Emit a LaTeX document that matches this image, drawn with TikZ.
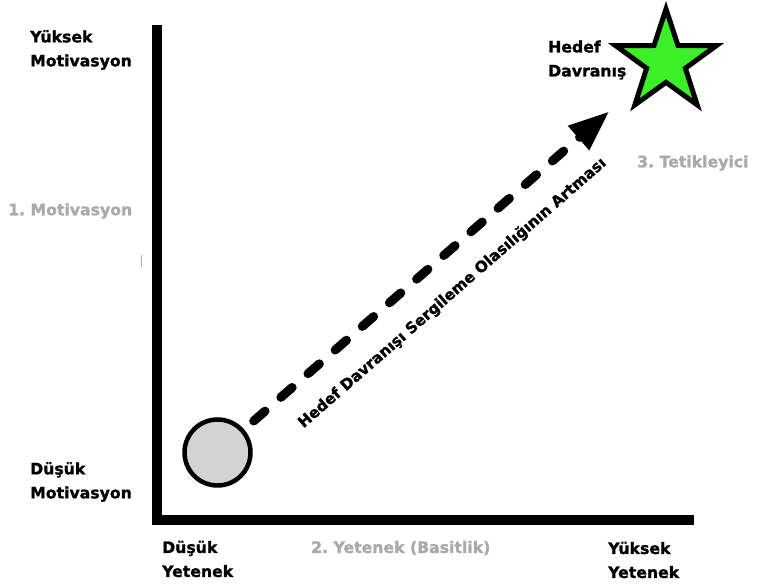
\documentclass[tikz,border=0pt]{standalone}
\usepackage{fontspec}
\setmainfont{DejaVu Sans}[BoldFeatures={FakeBold=1.3}]
\frenchspacing
\usetikzlibrary{shapes.geometric,arrows.meta}
\definecolor{stargreen}{RGB}{60,240,40}
\definecolor{labelgray}{RGB}{170,170,170}
\definecolor{circlegray}{RGB}{211,211,211}
\tikzset{
  lbl/.style={font=\bfseries\fontsize{15.7}{24}\selectfont, inner sep=0pt, align=left, anchor=west},
  glbl/.style={lbl, text=labelgray},
  axisline/.style={line width=10pt},
  startdot/.style={circle, draw, line width=4.5pt, fill=circlegray, minimum size=66pt, inner sep=0pt},
  goalstar/.style={star, star points=5, star point ratio=2.6, draw, line width=5pt, fill=stargreen, minimum size=106pt, inner sep=0pt},
  trend/.style={line width=9pt, line cap=round, dash pattern=on 15pt off 21pt, -{Triangle[length=41pt,width=30pt]}},
  trendlbl/.style={font=\bfseries\fontsize{15.2}{18}\selectfont, inner sep=0pt}
}
\begin{document}
\begin{tikzpicture}[x=1pt,y=1pt]
\useasboundingbox (0,0) rectangle (762,585);
\fill[white] (0,0) rectangle (762,585);
% axes
\draw[axisline] (157,560) -- (157,65) -- (694,65);
\draw[labelgray, line width=1pt] (141,330) -- (141,318);
% nodes
\node[startdot] (circ) at (217.5,132.5) {};
\node[goalstar] (goal) at (666,523) {};
\draw[trend, shorten <=48pt, shorten >=75pt] (circ.center) -- (goal.center)
  node[trendlbl, sloped, pos=0.474, below=22pt] (tl) {Hedef Davranışı Sergileme Olasılığının Artması};
% labels
\node[lbl] (ym) at (30,535) {Yüksek\\Motivasyon};
\node[glbl] (mot) at (8,374) {1. Motivasyon};
\node[lbl] (dm) at (30,103) {Düşük\\Motivasyon};
\node[lbl] (dy) at (162,26) {Düşük\\Yetenek};
\node[glbl] (yet) at (311,37) {2. Yetenek (Basitlik)};
\node[lbl] (yy) at (608,25) {Yüksek\\Yetenek};
\node[lbl] (hd) at (548,525) {Hedef\\Davranış};
\node[glbl] (tet) at (637,422) {3. Tetikleyici};
\end{tikzpicture}
\end{document}
